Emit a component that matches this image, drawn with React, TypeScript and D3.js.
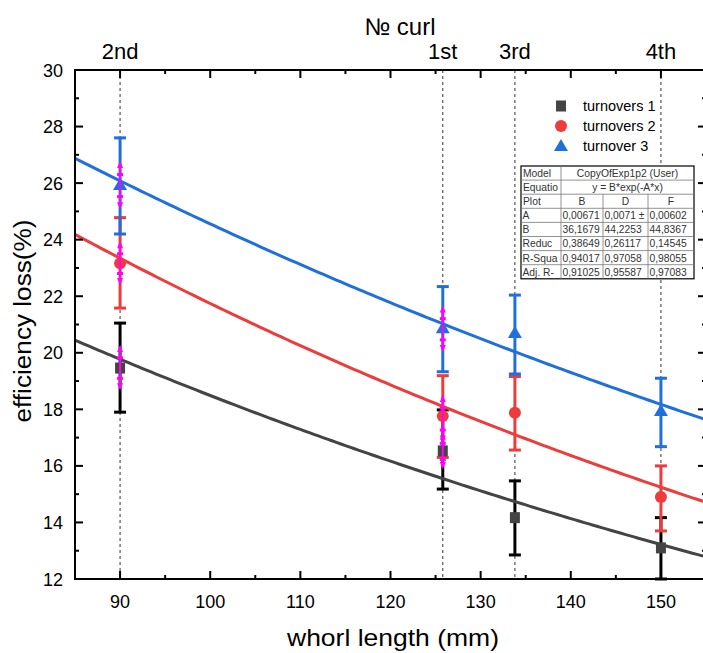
import * as d3 from 'd3';

const W = 703;
const H = 653;
const x = d3.scaleLinear([85, 155], [75, 706]);
const y = d3.scaleLinear([12, 30], [579, 70]);

// measured whorl positions and curl names
const whorl = [90, 125.8, 133.8, 150];
const curlNames = ['2nd', '1st', '3rd', '4th'];

// series values (mean, error low, error high)
const s1 = [19.46, 16.53, 14.17, 13.1];
const s1Lo = [17.9, 15.18, 12.85, 12.0];
const s1Hi = [21.05, 17.98, 15.47, 14.17];
const s2 = [23.17, 17.76, 17.88, 14.9];
const s2Lo = [21.58, 16.3, 16.56, 13.7];
const s2Hi = [24.78, 19.19, 19.16, 16.0];
const s3 = [25.93, 20.87, 20.7, 17.94];
const s3Lo = [24.2, 19.33, 19.25, 16.68];
const s3Hi = [27.6, 22.34, 22.04, 19.1];

// secondary (magenta) error bars: x, lo, hi
const magX = [90, 90, 90, 125.8, 125.8, 125.8];
const magLo = [25.15, 22.47, 18.75, 20.1, 16.9, 15.96];
const magHi = [26.71, 23.87, 20.2, 21.6, 18.44, 17.1];

// fit parameters y = B*exp(-A*x)
const fitA = [0.00671, 0.0071, 0.00602];
const fitB = [36.1679, 44.2253, 44.8367];

const colors = ['#444444', '#ee3b3b', '#1f70dc'];
const barColors = ['#000000', '#ee3b3b', '#1f70dc'];
const names = ['turnovers 1', 'turnovers 2', 'turnover 3'];

const tableRows = [
  ['A', '0,00671', '0,0071 ±', '0,00602'],
  ['B', '36,1679', '44,2253', '44,8367'],
  ['Reduc', '0,38649', '0,26117', '0,14545'],
  ['R-Squa', '0,94017', '0,97058', '0,98055'],
  ['Adj. R-', '0,91025', '0,95587', '0,97083'],
];

const yTicks = d3.range(12, 31, 2);
const yMinor = d3.range(13, 30, 2);
const xTicks = d3.range(90, 151, 10);
const xMinor = d3.range(85, 156, 10);

const font = 'Arial, "Liberation Sans", sans-serif';

function Marker({ i, cx, cy }: { i: number; cx: number; cy: number }) {
  const c = colors[i];
  if (i === 0) return <rect x={cx - 5} y={cy - 5.5} width={10} height={11} fill={c} />;
  if (i === 1) return <circle cx={cx} cy={cy} r={6} fill={c} />;
  return <path d={`M${cx},${cy - 7}L${cx + 7},${cy + 5}L${cx - 7},${cy + 5}Z`} fill={c} />;
}

export default function App() {
  const series = [s1, s2, s3];
  const los = [s1Lo, s2Lo, s3Lo];
  const his = [s1Hi, s2Hi, s3Hi];
  const xs = d3.range(85, 155.5, 0.5);

  const tX = [521, 561, 603, 648, 694];
  const tY0 = 166;
  const rh = 14.1;

  return (
    <svg width={W} height={H} style={{ position: 'absolute', left: 0, top: 0, fontFamily: font }}>
      <rect width={W} height={H} fill="#fff" />
      {/* dashed curl positions */}
      {whorl.map((w, k) => (
        <line key={k} x1={x(w)} x2={x(w)} y1={y(30)} y2={y(12)} stroke="#333" strokeWidth={1} strokeDasharray="3,3" />
      ))}
      {/* error bars */}
      {series.map((s, i) => s.map((_, k) => {
        const cx = x(whorl[k]);
        return (
          <g key={`e${i}-${k}`} stroke={barColors[i]} strokeWidth={3}>
            <line x1={cx} x2={cx} y1={y(los[i][k])} y2={y(his[i][k])} />
            <line x1={cx - 6} x2={cx + 6} y1={y(los[i][k])} y2={y(los[i][k])} />
            <line x1={cx - 6} x2={cx + 6} y1={y(his[i][k])} y2={y(his[i][k])} />
          </g>
        );
      }))}
      {series.map((s, i) => s.map((v, k) => <Marker key={`m${i}-${k}`} i={i} cx={x(whorl[k])} cy={y(v)} />))}
      {/* fit curves */}
      {fitA.map((a, i) => {
        const path = d3.line<number>().x(d => x(d)).y(d => y(fitB[i] * Math.exp(-a * d)))(xs);
        return <path key={`f${i}`} d={path ?? ''} fill="none" stroke={colors[i]} strokeWidth={3} />;
      })}
      {/* magenta error bars */}
      {magX.map((mx, k) => {
        const cx = x(mx);
        const t = y(magHi[k]);
        const b = y(magLo[k]);
        return (
          <g key={`g${k}`} fill="#ff00ff" stroke="none">
            <line x1={cx} x2={cx} y1={t} y2={b} stroke="#ff00ff" strokeWidth={2} />
            <path d={`M${cx},${t - 2}L${cx + 3},${t + 5}L${cx - 3},${t + 5}Z`} />
            <path d={`M${cx},${b + 2}L${cx + 3},${b - 5}L${cx - 3},${b - 5}Z`} />
            <rect x={cx - 3} y={t + (b - t) * 0.25 - 1} width={6} height={3} />
            <rect x={cx - 3} y={t + (b - t) * 0.75 - 1} width={6} height={3} />
          </g>
        );
      })}
      {/* axes frame */}
      <rect x={x(85)} y={y(30)} width={x(155) - x(85)} height={y(12) - y(30)} fill="none" stroke="#000" strokeWidth={2} />
      {yTicks.map(t => (
        <g key={`yt${t}`}>
          <line x1={x(85)} x2={x(85) + 8} y1={y(t)} y2={y(t)} stroke="#000" strokeWidth={2} />
          <line x1={x(155)} x2={x(155) - 8} y1={y(t)} y2={y(t)} stroke="#000" strokeWidth={2} />
          <text x={63} y={y(t) + 6.5} textAnchor="end" fontSize={18}>{t}</text>
        </g>
      ))}
      {yMinor.map(t => (
        <g key={`ym${t}`}>
          <line x1={x(85)} x2={x(85) + 4} y1={y(t)} y2={y(t)} stroke="#000" strokeWidth={2} />
          <line x1={x(155)} x2={x(155) - 4} y1={y(t)} y2={y(t)} stroke="#000" strokeWidth={2} />
        </g>
      ))}
      {xTicks.map(t => (
        <g key={`xt${t}`}>
          <line x1={x(t)} x2={x(t)} y1={y(12)} y2={y(12) - 8} stroke="#000" strokeWidth={2} />
          <line x1={x(t)} x2={x(t)} y1={y(30)} y2={y(30) + 8} stroke="#000" strokeWidth={2} />
          <text x={x(t)} y={y(12) + 29} textAnchor="middle" fontSize={18}>{t}</text>
        </g>
      ))}
      {xMinor.map(t => (
        <g key={`xm${t}`}>
          <line x1={x(t)} x2={x(t)} y1={y(12)} y2={y(12) - 4} stroke="#000" strokeWidth={2} />
          <line x1={x(t)} x2={x(t)} y1={y(30)} y2={y(30) + 4} stroke="#000" strokeWidth={2} />
        </g>
      ))}
      {whorl.map((w, k) => (
        <text key={`c${k}`} x={x(w)} y={59} textAnchor="middle" fontSize={22}>{curlNames[k]}</text>
      ))}
      <text x={400} y={35} textAnchor="middle" fontSize={24}>№ curl</text>
      <text x={393} y={646} textAnchor="middle" fontSize={24} textLength={212} lengthAdjust="spacingAndGlyphs">whorl length (mm)</text>
      <text transform={`translate(31,${321}) rotate(-90)`} textAnchor="middle" fontSize={23} textLength={203} lengthAdjust="spacingAndGlyphs">efficiency loss(%)</text>
      {/* legend */}
      {names.map((n, i) => (
        <g key={`l${i}`}>
          <Marker i={i} cx={561} cy={106 + i * 20} />
          <text x={583} y={111 + i * 20} fontSize={14.5}>{n}</text>
        </g>
      ))}
      {/* fit table */}
      <g fontSize={10.3} fill="#333">
        <rect x={tX[0]} y={tY0} width={tX[4] - tX[0]} height={rh * 8} fill="#fff" stroke="#000" strokeWidth={1.2} />
        {d3.range(1, 8).map(r => (
          <line key={`r${r}`} x1={tX[0]} x2={tX[4]} y1={tY0 + r * rh} y2={tY0 + r * rh} stroke="#777" strokeWidth={0.8} />
        ))}
        <line x1={tX[1]} x2={tX[1]} y1={tY0} y2={tY0 + rh * 8} stroke="#777" strokeWidth={0.8} />
        <line x1={tX[2]} x2={tX[2]} y1={tY0 + rh * 2} y2={tY0 + rh * 8} stroke="#777" strokeWidth={0.8} />
        <line x1={tX[3]} x2={tX[3]} y1={tY0 + rh * 2} y2={tY0 + rh * 8} stroke="#777" strokeWidth={0.8} />
        <text x={tX[0] + 2} y={tY0 + rh - 3.2}>Model</text>
        <text x={(tX[1] + tX[4]) / 2} y={tY0 + rh - 3.2} textAnchor="middle">CopyOfExp1p2 (User)</text>
        <text x={tX[0] + 2} y={tY0 + rh * 2 - 3.2}>Equatio</text>
        <text x={(tX[1] + tX[4]) / 2} y={tY0 + rh * 2 - 3.2} textAnchor="middle">y = B*exp(-A*x)</text>
        <text x={tX[0] + 2} y={tY0 + rh * 3 - 3.2}>Plot</text>
        {['B', 'D', 'F'].map((p, c) => (
          <text key={p} x={(tX[c + 1] + tX[c + 2]) / 2} y={tY0 + rh * 3 - 3.2} textAnchor="middle">{p}</text>
        ))}
        {tableRows.map((row, r) => row.map((cell, c) => (
          <text key={`t${r}-${c}`} x={tX[c] + 1.5} y={tY0 + rh * (r + 4) - 3.2}>{cell}</text>
        )))}
      </g>
    </svg>
  );
}
